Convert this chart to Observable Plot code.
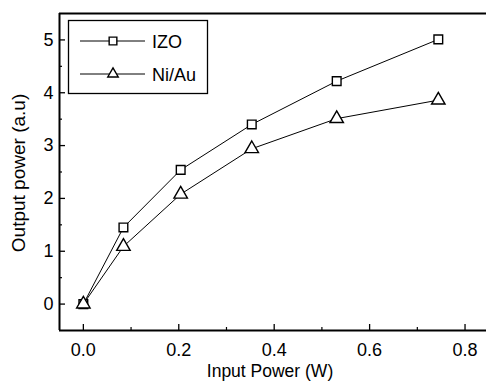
<!DOCTYPE html>
<html>
<head>
<meta charset="utf-8">
<script src="https://cdn.jsdelivr.net/npm/d3@7"></script>
<script src="https://cdn.jsdelivr.net/npm/@observablehq/plot@0.6"></script>
<style>
  body { margin: 0; background: #fff; }
  svg { font-family: "Liberation Sans", Arial, sans-serif; }
</style>
</head>
<body>
<div id="chart"></div>
<script>
const inputPower = [0, 0.084, 0.204, 0.353, 0.531, 0.744];
const izo = [0, 1.45, 2.54, 3.40, 4.22, 5.01];
const niau = [0, 1.09, 2.08, 2.94, 3.51, 3.86];
const seriesNames = ["IZO", "Ni/Au"];
const xTicks = [0, 0.2, 0.4, 0.6, 0.8];
const xMinor = [0.1, 0.3, 0.5, 0.7];
const yTicks = [0, 1, 2, 3, 4, 5];
const yMinor = [0.5, 1.5, 2.5, 3.5, 4.5];
const xDomain = [-0.05, 0.845];
const yDomain = [-0.5, 5.5];

const data = [];
inputPower.forEach((x, i) => {
  data.push({x, y: izo[i], s: seriesNames[0]});
  data.push({x, y: niau[i], s: seriesNames[1]});
});
const symbols = {"IZO": "square", "Ni/Au": "triangle"};
const SQ_R = 4.9, TRI_R = 5.0;

const W = 486, H = 381;
const plot = Plot.plot({
  width: W, height: H,
  marginLeft: 59, marginTop: 13, marginRight: 0, marginBottom: 51,
  style: {fontFamily: "'Liberation Sans', Arial, sans-serif", fontSize: "18px", color: "#000", background: "#fff"},
  x: {domain: xDomain},
  y: {domain: yDomain},
  marks: [
    Plot.lineY(data, {x: "x", y: "y", z: "s", stroke: "#000", strokeWidth: 1}),
    Plot.dot(data.filter(d => d.s === "IZO"), {x: "x", y: "y", symbol: "square", r: SQ_R, fill: "#fff", stroke: "#000", strokeWidth: 1.4}),
    Plot.dot(data.filter(d => d.s === "Ni/Au"), {x: "x", y: "y", symbol: "triangle", r: TRI_R, fill: "#fff", stroke: "#000", strokeWidth: 1.4}),
    Plot.axisX({ticks: xTicks, tickSize: -6, tickPadding: 19, tickFormat: d3.format(".1f"), strokeWidth: 1.3, fontSize: 18, label: null}),
    Plot.axisX({ticks: xMinor, tickSize: -3, tickFormat: () => "", strokeWidth: 1.2, label: null}),
    Plot.axisY({ticks: yTicks, tickSize: -6, tickPadding: 12, tickFormat: d3.format("d"), strokeWidth: 1.3, fontSize: 18, label: null}),
    Plot.axisY({ticks: yMinor, tickSize: -3, tickFormat: () => "", strokeWidth: 1.2, label: null}),
    Plot.ruleX([xDomain[0]], {stroke: "#000", strokeWidth: 2}),
    Plot.ruleY(yDomain, {stroke: "#000", strokeWidth: 2})
  ]
});
document.getElementById("chart").appendChild(plot);

const svg = d3.select(plot);
// axis titles
svg.append("text").attr("x", 270).attr("y", 376.5).attr("text-anchor", "middle")
  .attr("font-size", 17.5).attr("fill", "#000").text("Input Power (W)");
svg.append("text").attr("transform", "translate(25,173) rotate(-90)").attr("text-anchor", "middle")
  .attr("font-size", 19).attr("fill", "#000").text("Output power (a.u)");

// legend
const lg = svg.append("g");
lg.append("rect").attr("x", 68.5).attr("y", 20.5).attr("width", 139).attr("height", 73)
  .attr("fill", "#fff").attr("stroke", "#000").attr("stroke-width", 1.3);
const sym = {square: d3.symbol(d3.symbolSquare2, Math.PI * SQ_R * SQ_R), triangle: d3.symbol(d3.symbolTriangle2, Math.PI * TRI_R * TRI_R)};
seriesNames.forEach((name, i) => {
  const y = 41 + i * 33;
  lg.append("line").attr("x1", 80).attr("x2", 145).attr("y1", y).attr("y2", y).attr("stroke", "#000").attr("stroke-width", 1);
  lg.append("path").attr("d", sym[symbols[name]]()).attr("transform", `translate(113,${y})`)
    .attr("fill", "#fff").attr("stroke", "#000").attr("stroke-width", 1.4);
  lg.append("text").attr("x", 152).attr("y", y + 6.5).attr("text-anchor", "start")
    .attr("font-size", 18).attr("fill", "#000").text(name);
});
</script>
</body>
</html>
